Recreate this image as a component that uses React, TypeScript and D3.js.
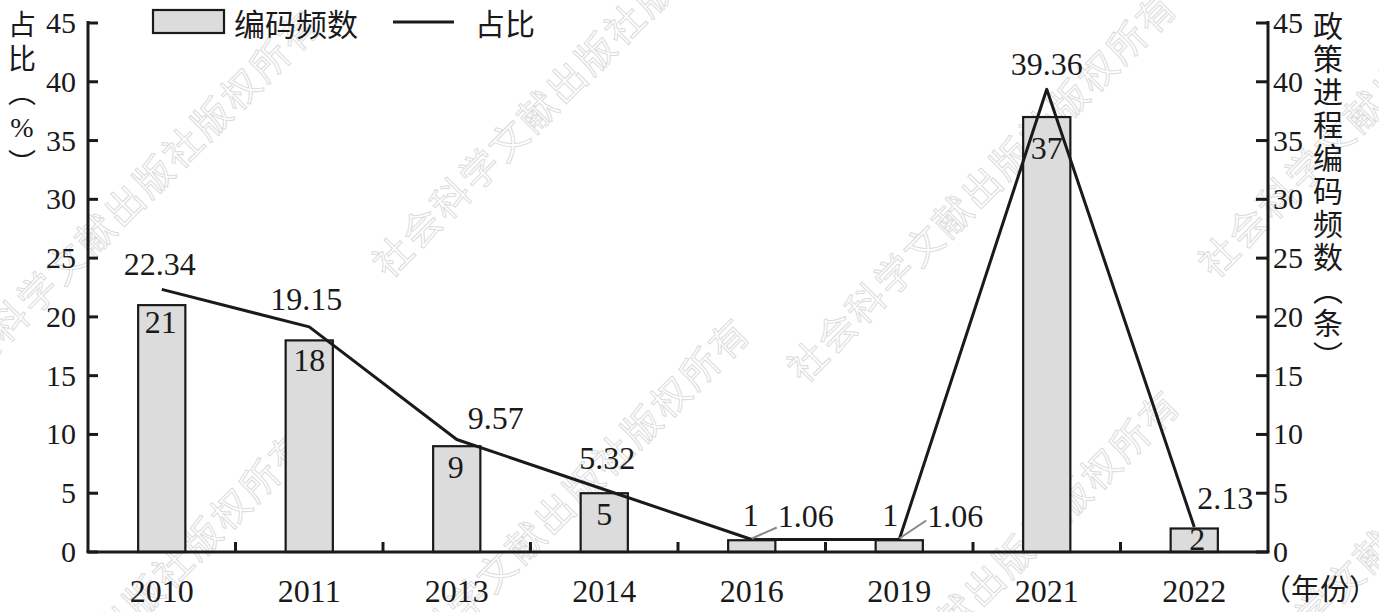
import React from 'react';
import * as d3 from 'd3';

// chart data
const years = ['2010', '2011', '2013', '2014', '2016', '2019', '2021', '2022'];
const counts = [21, 18, 9, 5, 1, 1, 37, 2]; // 编码频数
const shares = [22.34, 19.15, 9.57, 5.32, 1.06, 1.06, 39.36, 2.13]; // 占比 (%)
const yTicks = [0, 5, 10, 15, 20, 25, 30, 35, 40, 45];

const rightTitle = '政策进程编码频数（条）';
const watermark = '社会科学文献出版社版权所有';

// label nudges (layout only)
const shareLabelPos = [
  { dx: -2, dy: -14, anchor: 'middle', leader: false },
  { dx: -3, dy: -17, anchor: 'middle', leader: false },
  { dx: 39, dy: -10, anchor: 'middle', leader: false },
  { dx: 3, dy: -20, anchor: 'middle', leader: false },
  { dx: 26, dy: -13, anchor: 'start', leader: true },
  { dx: 28, dy: -13, anchor: 'start', leader: true },
  { dx: 0, dy: -14, anchor: 'middle', leader: false },
  { dx: 31, dy: -18, anchor: 'middle', leader: false },
];
const countLabelPos = [
  { dx: -1, dy: 28 }, { dx: 0, dy: 31 }, { dx: -1, dy: 32 }, { dx: 0, dy: 32 },
  { dx: -1, dy: -14 }, { dx: -9, dy: -14 }, { dx: 0, dy: 42 }, { dx: 3, dy: 22 },
];
const watermarkSpots = [
  [-53, 403], [389, 280], [804, 385], [1215, 280],
  [-63, 823], [377, 711], [807, 783], [1225, 720],
];

const W = 1379;
const H = 612;
const left = 88;
const right = 1268;
const base = 552;
const top = 23;

const serif = '"Liberation Serif", "Times New Roman", serif';
const cjk = '"Noto Sans CJK SC", sans-serif';
const vertical: React.CSSProperties = { writingMode: 'vertical-rl', textOrientation: 'upright' } as React.CSSProperties;

const App = () => {
  const x = d3.scaleBand<string>().domain(years).range([left, right]).padding(0);
  const y = d3.scaleLinear().domain([0, 45]).range([base, top]);
  const bw = x.bandwidth() * 0.32;
  const cx = (yr: string) => (x(yr) as number) + x.bandwidth() / 2;

  const line = d3
    .line<number>()
    .x((_, i) => cx(years[i]))
    .y((d) => y(d));

  return (
    <div style={{ position: 'absolute', left: 0, top: 0 }}>
      <svg width={W} height={H} style={{ display: 'block', background: '#fff' }}>
        {/* watermark */}
        <g>
          {watermarkSpots.map(([wx, wy], i) => (
            <text
              key={i}
              transform={`translate(${wx},${wy}) rotate(-45)`}
              fontFamily={cjk}
              fontSize={38}
              letterSpacing={3}
              fill="none"
              stroke="#dcdcdc"
              strokeWidth={1}
            >
              {watermark}
            </text>
          ))}
        </g>

        {/* bars */}
        {counts.map((c, i) => (
          <rect
            key={years[i]}
            x={cx(years[i]) - bw / 2}
            y={y(c)}
            width={bw}
            height={base - y(c)}
            fill="#dcdcdc"
            stroke="#1a1a1a"
            strokeWidth={2.2}
          />
        ))}

        {/* line */}
        <path d={line(shares) || ''} fill="none" stroke="#1a1a1a" strokeWidth={3} strokeLinejoin="round" />

        {/* leader lines */}
        {shares.map((s, i) =>
          shareLabelPos[i].leader ? (
            <line
              key={'ld' + i}
              x1={cx(years[i])}
              y1={y(s) - 1}
              x2={cx(years[i]) + shareLabelPos[i].dx - 1}
              y2={y(s) + shareLabelPos[i].dy + (i === 5 ? -6 : 1)}
              stroke="#888"
              strokeWidth={2}
            />
          ) : null
        )}

        {/* axes */}
        <line x1={left} y1={top - 2} x2={left} y2={base} stroke="#1a1a1a" strokeWidth={3} />
        <line x1={right} y1={top - 2} x2={right} y2={base} stroke="#1a1a1a" strokeWidth={3} />
        <line x1={left - 1.5} y1={base} x2={right + 1.5} y2={base} stroke="#1a1a1a" strokeWidth={3} />
        {yTicks.map((t) => (
          <g key={'t' + t}>
            <line x1={left} x2={left + 10} y1={y(t)} y2={y(t)} stroke="#1a1a1a" strokeWidth={3} />
            <line x1={right - 12} x2={right} y1={y(t)} y2={y(t)} stroke="#1a1a1a" strokeWidth={3} />
            <text x={76} y={y(t) + 10} textAnchor="end" fontFamily={serif} fontSize={30} fill="#1a1a1a">
              {t}
            </text>
            <text x={1273} y={y(t) + 10} textAnchor="start" fontFamily={serif} fontSize={30} fill="#1a1a1a">
              {t}
            </text>
          </g>
        ))}
        {years.slice(1).map((yr) => (
          <line key={'xt' + yr} x1={x(yr)} x2={x(yr)} y1={base} y2={base - 10} stroke="#1a1a1a" strokeWidth={3} />
        ))}
        {years.map((yr) => (
          <text key={'xl' + yr} x={cx(yr)} y={602} textAnchor="middle" fontFamily={serif} fontSize={32} fill="#1a1a1a">
            {yr}
          </text>
        ))}
        <text x={1262} y={600} fontFamily={cjk} fontSize={29} fill="#1a1a1a">
          （年份）
        </text>

        {/* value labels */}
        {shares.map((s, i) => (
          <text
            key={'sl' + i}
            x={cx(years[i]) + shareLabelPos[i].dx}
            y={y(s) + shareLabelPos[i].dy}
            textAnchor={shareLabelPos[i].anchor}
            fontFamily={serif}
            fontSize={32}
            fill="#1a1a1a"
          >
            {s.toFixed(2)}
          </text>
        ))}
        {counts.map((c, i) => (
          <text
            key={'cl' + i}
            x={cx(years[i]) + countLabelPos[i].dx}
            y={y(c) + countLabelPos[i].dy}
            textAnchor="middle"
            fontFamily={serif}
            fontSize={32}
            fill="#1a1a1a"
          >
            {c}
          </text>
        ))}

        {/* axis titles, set in vertical columns */}
        <text x={22} y={10} style={vertical} fontFamily={cjk} fontSize={28} letterSpacing={6} fill="#1a1a1a">
          占比（<tspan fontFamily={serif}>%</tspan>）
        </text>
        <text x={1328} y={11} style={vertical} fontFamily={cjk} fontSize={30} letterSpacing={3} fill="#1a1a1a">
          {rightTitle}
        </text>

        {/* legend */}
        <rect x={153} y={10} width={71} height={23} fill="#dcdcdc" stroke="#1a1a1a" strokeWidth={2.2} />
        <text x={234} y={22} dominantBaseline="central" fontFamily={cjk} fontSize={31} fill="#1a1a1a">
          编码频数
        </text>
        <line x1={393} x2={454} y1={22} y2={22} stroke="#1a1a1a" strokeWidth={3} />
        <text x={475} y={22} dominantBaseline="central" fontFamily={cjk} fontSize={30} fill="#1a1a1a">
          占比
        </text>
      </svg>
    </div>
  );
};

export default App;
